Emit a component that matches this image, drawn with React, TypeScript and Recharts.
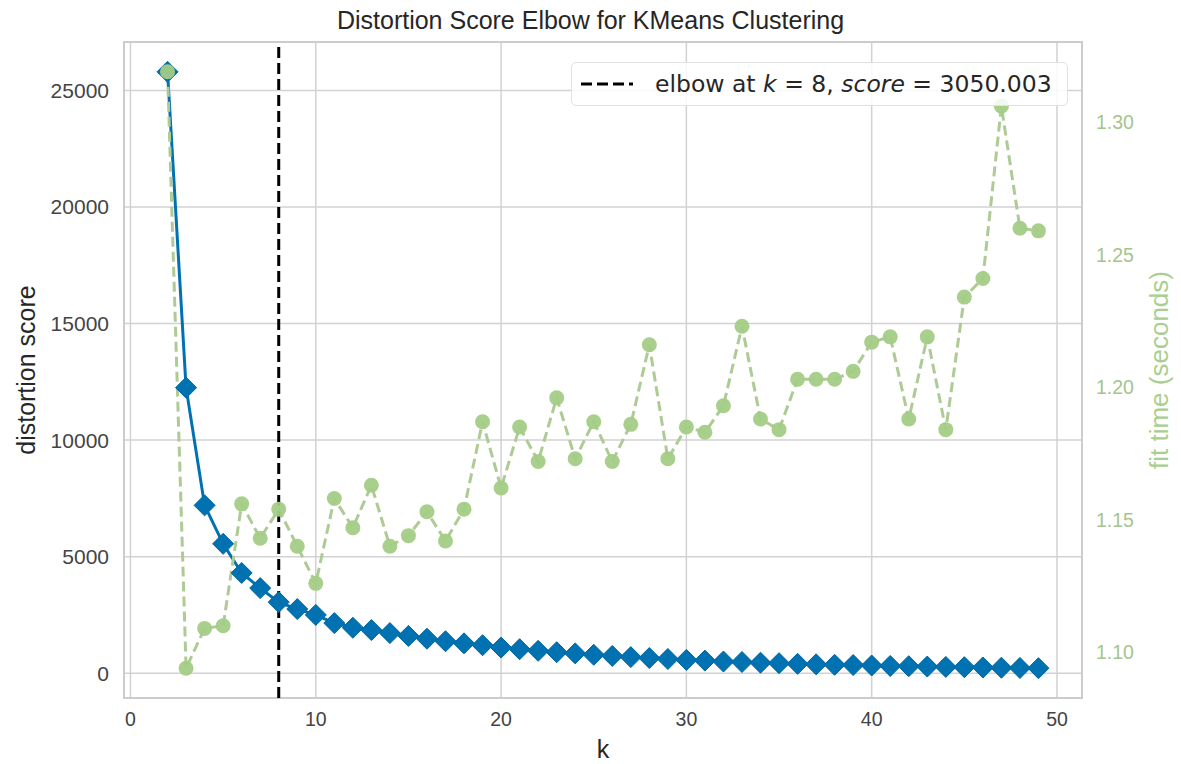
import React from "react";
import {
  ComposedChart,
  Line,
  XAxis,
  YAxis,
  CartesianGrid,
  ReferenceLine,
  ReferenceArea,
  Legend,
} from "recharts";

const ks = [
  2, 3, 4, 5, 6, 7, 8, 9, 10, 11, 12, 13, 14, 15, 16, 17, 18, 19, 20, 21, 22, 23, 24, 25,
  26, 27, 28, 29, 30, 31, 32, 33, 34, 35, 36, 37, 38, 39, 40, 41, 42, 43, 44, 45, 46, 47, 48, 49,
];

const distortion = [
  25800, 12250, 7200, 5550, 4300, 3650, 3050, 2750, 2500, 2150, 1950, 1850, 1720, 1600, 1480, 1370,
  1280, 1200, 1100, 1030, 960, 900, 850, 790, 740, 690, 650, 610, 570, 540, 500, 480,
  450, 430, 400, 380, 360, 350, 330, 310, 300, 285, 270, 260, 245, 235, 225, 215,
];

const fitTime = [
  1.319, 1.094, 1.109, 1.11, 1.156, 1.143, 1.154, 1.14, 1.126, 1.158, 1.147, 1.163, 1.14, 1.144, 1.153, 1.142,
  1.154, 1.187, 1.162, 1.185, 1.172, 1.196, 1.173, 1.187, 1.172, 1.186, 1.216, 1.173, 1.185, 1.183, 1.193, 1.223,
  1.188, 1.184, 1.203, 1.203, 1.203, 1.206, 1.217, 1.219, 1.188, 1.219, 1.184, 1.234, 1.241, 1.306, 1.26, 1.259,
];

const elbowK = 8;
const elbowScore = 3050.003;

const xTicks = [0, 10, 20, 30, 40, 50];
const leftTicks = [0, 5000, 10000, 15000, 20000, 25000];
const rightTicks = [1.1, 1.15, 1.2, 1.25, 1.3];

const data = ks.map((k, i) => ({ k, distortion: distortion[i], fit: fitTime[i] }));

// matplotlib style 5% margins
const pad = (arr: number[]): [number, number] => {
  const lo = Math.min(...arr);
  const hi = Math.max(...arr);
  const m = (hi - lo) * 0.05;
  return [lo - m, hi + m];
};
const xDomain = pad(ks);
const leftDomain = pad(distortion);
const rightDomain = pad(fitTime);

const BLUE = "#0072B2";
const GREEN = "#a3cc86";
const GREEN_LINE = "#aecb95";
const GRID = "#d2d2d2";

const Diamond = (props: any) => {
  const { cx, cy, index } = props;
  if (cx == null || cy == null) return <g key={`d-${index}`} />;
  const s = 10.5;
  return (
    <path
      key={`d-${index}`}
      d={`M${cx},${cy - s} L${cx + s},${cy} L${cx},${cy + s} L${cx - s},${cy} Z`}
      fill={BLUE}
      stroke="#00669f"
      strokeWidth={1}
    />
  );
};

const Dot = (props: any) => {
  const { cx, cy, index } = props;
  if (cx == null || cy == null) return <g key={`c-${index}`} />;
  return <circle key={`c-${index}`} cx={cx} cy={cy} r={7.5} fill={GREEN} fillOpacity={0.95} />;
};

const LegendBox = () => (
  <div
    style={{
      boxSizing: "border-box",
      width: 497,
      height: 44,
      border: "1px solid #e2e2e2",
      borderRadius: 5,
      background: "rgba(255,255,255,0.85)",
      display: "flex",
      alignItems: "center",
      fontFamily: '"DejaVu Sans", sans-serif',
      fontSize: 23.5,
      color: "#262626",
      whiteSpace: "nowrap",
    }}
  >
    <svg width={52} height={10} style={{ marginLeft: 9 }}>
      <line x1={0} y1={5} x2={52} y2={5} stroke="#000" strokeWidth={3} strokeDasharray="11 5" />
    </svg>
    <span style={{ marginLeft: 22 }}>
      elbow at <i>k</i> = {elbowK}, <i>score</i> = {elbowScore.toFixed(3)}
    </span>
  </div>
);

export default function App() {
  return (
    <div
      style={{
        position: "absolute",
        left: 0,
        top: 0,
        width: 1181,
        height: 764,
        background: "#fff",
        fontFamily: '"Liberation Sans", Arial, sans-serif',
      }}
    >
      <ComposedChart width={1181} height={764} data={data} margin={{ top: 42, right: 0, bottom: 0, left: 0 }}>
        <CartesianGrid yAxisId="left" stroke={GRID} strokeWidth={1.5} />
        <XAxis
          dataKey="k"
          type="number"
          domain={xDomain}
          ticks={xTicks}
          allowDataOverflow
          height={66}
          axisLine={false}
          tickLine={false}
          tickSize={0}
          tickMargin={14}
          tick={{ fontSize: 19.5, fill: "#444" }}
          label={{ value: "k", position: "insideBottom", offset: 6, style: { fontSize: 25, fill: "#262626" } }}
        />
        <YAxis
          yAxisId="left"
          orientation="left"
          domain={leftDomain}
          ticks={leftTicks}
          allowDataOverflow
          width={124}
          axisLine={false}
          tickLine={false}
          tickSize={0}
          tickMargin={15}
          tick={{ fontSize: 21, fill: "#444" }}
          label={{
            value: "distortion score",
            angle: -90,
            position: "insideLeft",
            offset: 26,
            style: { textAnchor: "middle", fontSize: 25, fill: "#262626" },
          }}
        />
        <YAxis
          yAxisId="right"
          orientation="right"
          domain={rightDomain}
          ticks={rightTicks}
          allowDataOverflow
          width={99}
          axisLine={false}
          tickLine={false}
          tickSize={0}
          tickMargin={14}
          tickFormatter={(v: number) => v.toFixed(2)}
          tick={{ fontSize: 19.5, fill: "#a6c48c" }}
          label={{
            value: "fit time (seconds)",
            angle: -90,
            position: "insideRight",
            offset: 22,
            style: { textAnchor: "middle", fontSize: 26, fill: "#a9cf8f" },
          }}
        />
        <ReferenceArea
          yAxisId="left"
          x1={xDomain[0]}
          x2={xDomain[1]}
          y1={leftDomain[0]}
          y2={leftDomain[1]}
          fill="none"
          stroke="#cccccc"
          strokeWidth={2}
          ifOverflow="visible"
        />
        <Line
          yAxisId="left"
          dataKey="distortion"
          type="linear"
          stroke={BLUE}
          strokeWidth={3}
          dot={Diamond}
          activeDot={false}
          isAnimationActive={false}
        />
        <Line
          yAxisId="right"
          dataKey="fit"
          type="linear"
          stroke={GREEN_LINE}
          strokeWidth={3}
          strokeDasharray="10 5"
          dot={Dot}
          activeDot={false}
          isAnimationActive={false}
        />
        <ReferenceLine
          yAxisId="left"
          x={elbowK}
          stroke="#000"
          strokeWidth={3}
          strokeDasharray="11 5"
          ifOverflow="visible"
        />
        <Legend
          layout="vertical"
          align="center"
          verticalAlign="middle"
          wrapperStyle={{ position: "absolute", left: 571, top: 62, width: 497, height: 44 }}
          content={() => <LegendBox />}
        />
      </ComposedChart>
      <div
        style={{
          position: "absolute",
          top: 6,
          left: 0,
          width: 1181,
          textAlign: "center",
          fontSize: 25,
          color: "#262626",
          pointerEvents: "none",
        }}
      >
        Distortion Score Elbow for KMeans Clustering
      </div>
    </div>
  );
}
